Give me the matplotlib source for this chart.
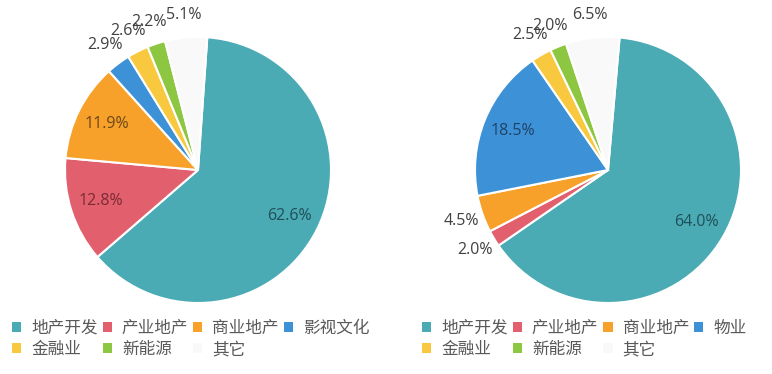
import numpy as np
import matplotlib
matplotlib.use("Agg")
import matplotlib.pyplot as plt
from matplotlib.patches import Patch

plt.rcParams["font.family"] = ["Noto Sans CJK SC", "DejaVu Sans"]

# data
left_labels = ["地产开发", "产业地产", "商业地产", "影视文化", "金融业", "新能源", "其它"]
left_values = [62.6, 12.8, 11.9, 2.9, 2.6, 2.2, 5.1]

right_labels = ["地产开发", "产业地产", "商业地产", "物业", "金融业", "新能源", "其它"]
right_values = [64.0, 2.0, 4.5, 18.5, 2.5, 2.0, 6.5]

colors = ["#4AABB5", "#E2606E", "#F7A12A", "#3D91D6", "#F8C83E", "#8DC641", "#F9F9F9"]
inner_text = ["#1F4F58", "#7A2A33", "#6B4718", "#1E4468", "#404040", "#404040", "#404040"]

fig = plt.figure(figsize=(7.72, 3.74), dpi=100)

W, H = 772, 374
R = 133  # pie radius in pixels
LIM = 1.3


def draw_pie(cx, cy, values, start):
    size = 2 * LIM * R
    ax = fig.add_axes([(cx - size / 2) / W, (H - cy - size / 2) / H, size / W, size / H])
    wedges, _ = ax.pie(values, colors=colors, startangle=start, counterclock=False,
                       wedgeprops=dict(edgecolor="white", linewidth=1.5))
    for w, v, tc in zip(wedges, values, inner_text):
        ang = np.deg2rad((w.theta1 + w.theta2) / 2)
        if v > 8:
            r, col = 0.77, tc
        else:
            r, col = 1.17, "#404040"
        ax.text(r * np.cos(ang), r * np.sin(ang), f"{v:.1f}%", ha="center", va="center",
                fontsize=11.5, color=col, family=["Open Sans", "DejaVu Sans"])
    ax.set_xlim(-LIM, LIM)
    ax.set_ylim(-LIM, LIM)
    ax.set_aspect("equal")
    ax.axis("off")
    return ax


draw_pie(198, 170, left_values, 86)
draw_pie(608, 170, right_values, 85)


def add_legend(labels, x0):
    # column-major order so the rows read like the original
    order = [0, 4, 1, 5, 2, 6, 3]
    handles = [Patch(facecolor=colors[i], edgecolor="none") for i in order]
    fig.legend(handles, [labels[i] for i in order], ncol=4, loc="upper left",
               bbox_to_anchor=(x0 / W, 1 - 320 / H), frameon=False, fontsize=12,
               handlelength=0.55, handleheight=0.55, handletextpad=0.6,
               columnspacing=0.3, labelspacing=0.25, borderpad=0, borderaxespad=0,
               labelcolor="#595959")


add_legend(left_labels, 12)
add_legend(right_labels, 422)

fig.savefig("out.png", dpi=100, facecolor="white")
